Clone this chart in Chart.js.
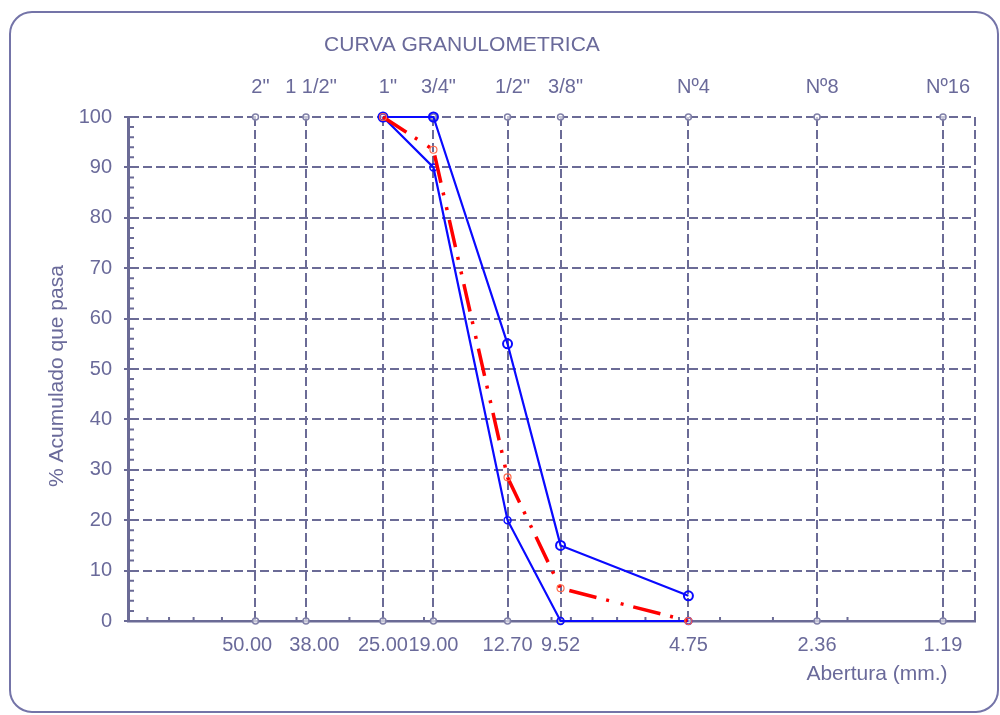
<!DOCTYPE html>
<html>
<head>
<meta charset="utf-8">
<script src="https://cdn.jsdelivr.net/npm/chart.js@4.4.1/dist/chart.umd.min.js"></script>
<style>
  html, body { margin: 0; background: #fff; }
  #wrap { width: 1000px; height: 715px; position: relative; }
</style>
</head>
<body>
<div id="wrap"><canvas id="chart-curva"></canvas></div>
<script>
// datos de la curva
const TITULO = "CURVA GRANULOMETRICA";
const TITULO_Y = "% Acumulado que pasa";
const TITULO_X = "Abertura (mm.)";

const tamices = [50.00, 38.00, 25.00, 19.00, 12.70, 9.52, 4.75, 2.36, 1.19];
const tamicesMm = ["50.00", "38.00", "25.00", "19.00", "12.70", "9.52", "4.75", "2.36", "1.19"];
const tamicesPulg = ['2"', '1 1/2"', '1"', '3/4"', '1/2"', '3/8"', 'Nº4', 'Nº8', 'Nº16'];

const abertura = [25.00, 19.00, 12.70, 9.52, 4.75];
const limiteSup = [100, 100, 55, 15, 5];
const limiteInf = [100, 90, 20, 0, 0];
const muestra = [100, 93.5, 28.5, 6.5, 0];

const yTicks = [0, 10, 20, 30, 40, 50, 60, 70, 80, 90, 100];
const yMenores = [2, 4, 6, 8, 12, 14, 16, 18, 22, 24, 26, 28, 32, 34, 36, 38, 42, 44, 46, 48,
                  52, 54, 56, 58, 62, 64, 66, 68, 72, 74, 76, 78, 82, 84, 86, 88, 92, 94, 96, 98];
const xMenores = [90, 80, 70, 60, 40, 30, 20, 10, 9, 8, 7, 6, 5, 4, 3, 2];

const GRIS = '#6a6a9a';
const GRILLA = '#6b6b96';
const FUENTE = '"Liberation Sans", Arial, sans-serif';

const puntos = (ys) => abertura.map((x, i) => ({ x: x, y: ys[i] }));

// etiquetas de abajo: 50.00 y 38.00 van separadas como en la hoja original
function etiquetaMm(v) {
    const i = tamices.indexOf(v);
    if (i < 0) return '';
    if (i === 0) return tamicesMm[i] + '   ';
    if (i === 1) return '   ' + tamicesMm[i];
    return tamicesMm[i];
}

// decoracion: marco, titulos y marcas menores
const decoracion = {
    id: 'decoracion',
    beforeDraw(chart) {
        const ctx = chart.ctx;
        ctx.save();
        ctx.strokeStyle = '#7474a8';
        ctx.lineWidth = 2;
        ctx.beginPath();
        ctx.roundRect(10, 12, 988, 700, 22);
        ctx.stroke();
        ctx.restore();
    },
    beforeDatasetsDraw(chart) {
        const ctx = chart.ctx;
        const sx = chart.scales.x, sy = chart.scales.y;
        ctx.save();
        ctx.strokeStyle = GRILLA;
        ctx.lineWidth = 2;
        ctx.beginPath();
        yMenores.forEach(v => {
            const py = sy.getPixelForValue(v);
            ctx.moveTo(sx.left, py);
            ctx.lineTo(sx.left + 6, py);
        });
        xMenores.forEach(v => {
            const px = sx.getPixelForValue(v);
            ctx.moveTo(px, sy.bottom);
            ctx.lineTo(px, sy.bottom - 4);
        });
        ctx.stroke();

        ctx.fillStyle = GRIS;
        ctx.font = '21px ' + FUENTE;
        ctx.textAlign = 'center';
        ctx.textBaseline = 'middle';
        ctx.fillText(TITULO, 462, 45);
        ctx.fillText(TITULO_X, 877, 674);
        ctx.translate(57, 376);
        ctx.rotate(-Math.PI / 2);
        ctx.fillText(TITULO_Y, 0, 0);
        ctx.restore();
    }
};

const ctx = document.getElementById('chart-curva').getContext('2d');
new Chart(ctx, {
    type: 'line',
    data: {
        datasets: [
            {
                label: 'Muestra',
                data: puntos(muestra),
                borderColor: '#ff0000',
                borderWidth: 3.5,
                borderDash: [28, 10, 3, 12, 3, 10],
                pointRadius: 3.5,
                pointBorderWidth: 1.2,
                pointBorderColor: '#ff6a4a',
                pointBackgroundColor: 'rgba(0,0,0,0)',
                clip: false,
                order: 1
            },
            {
                label: 'Limite superior',
                data: puntos(limiteSup),
                borderColor: '#0a0aff',
                borderWidth: 2.2,
                pointRadius: 4.5,
                pointBorderWidth: 2,
                pointBorderColor: '#0a0aff',
                pointBackgroundColor: 'rgba(0,0,0,0)',
                clip: false,
                order: 2
            },
            {
                label: 'Limite inferior',
                data: puntos(limiteInf),
                borderColor: '#0a0aff',
                borderWidth: 2.2,
                pointRadius: 3.5,
                pointBorderWidth: 1.5,
                pointBorderColor: '#0a0aff',
                pointBackgroundColor: 'rgba(0,0,0,0)',
                clip: false,
                order: 3
            },
            {
                label: 'marcas',
                data: tamices.flatMap(v => [{ x: v, y: 100 }, { x: v, y: 0 }]),
                showLine: false,
                pointRadius: 3,
                pointBorderWidth: 1.5,
                pointBorderColor: '#8080a8',
                pointBackgroundColor: 'rgba(255,255,255,0.6)',
                clip: false,
                order: 4
            }
        ]
    },
    options: {
        responsive: true,
        maintainAspectRatio: false,
        animation: false,
        layout: { padding: { left: 0, right: 25, top: 0, bottom: 0 } },
        plugins: { legend: { display: false }, tooltip: { enabled: false }, title: { display: false } },
        scales: {
            x: {
                type: 'logarithmic',
                position: 'bottom',
                reverse: true,
                min: 1,
                max: 100,
                afterBuildTicks: s => { s.ticks = tamices.concat([1]).map(v => ({ value: v })); },
                afterFit: s => { s.height = 94; },
                ticks: {
                    autoSkip: false,
                    maxRotation: 0,
                    minRotation: 0,
                    padding: 12,
                    color: GRIS,
                    font: { family: FUENTE, size: 20 },
                    callback: etiquetaMm
                },
                grid: { color: GRILLA, lineWidth: 2, drawTicks: false },
                border: { display: true, color: GRILLA, width: 2.5, dash: [9, 4] }
            },
            xTop: {
                type: 'logarithmic',
                position: 'top',
                reverse: true,
                min: 1,
                max: 100,
                afterBuildTicks: s => { s.ticks = tamices.map(v => ({ value: v })); },
                afterFit: s => { s.height = 117; },
                ticks: {
                    autoSkip: false,
                    maxRotation: 0,
                    minRotation: 0,
                    padding: 18,
                    labelOffset: 5,
                    color: GRIS,
                    font: { family: FUENTE, size: 20 },
                    callback: v => { const i = tamices.indexOf(v); return i < 0 ? '' : tamicesPulg[i]; }
                },
                grid: { display: false, drawTicks: false },
                border: { display: false }
            },
            y: {
                min: 0,
                max: 100,
                afterBuildTicks: s => { s.ticks = yTicks.map(v => ({ value: v })); },
                afterFit: s => { s.width = 128; },
                ticks: {
                    padding: 12,
                    color: GRIS,
                    font: { family: FUENTE, size: 20 }
                },
                grid: { color: GRILLA, lineWidth: 2, drawTicks: true, tickLength: 4, tickWidth: 2, tickColor: GRILLA },
                border: { display: true, color: GRILLA, width: 3, dash: [9, 4] }
            }
        }
    },
    plugins: [decoracion]
});
</script>
</body>
</html>
